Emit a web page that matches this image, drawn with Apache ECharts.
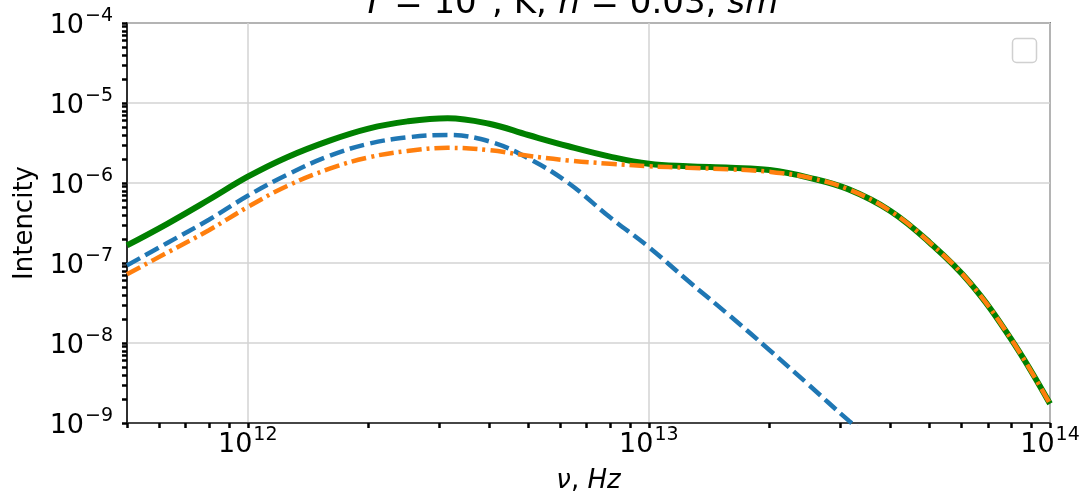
<!DOCTYPE html>
<html>
<head>
<meta charset="utf-8">
<style>
  html, body { margin: 0; padding: 0; background: #fff; }
  #chart { width: 1085px; height: 496px; }
</style>
<script src="https://cdn.jsdelivr.net/npm/echarts@6/dist/echarts.min.js"></script>
</head>
<body>
<div id="chart"></div>
<script>
// Frequency grid, Hz (roughly even steps in log space)
const nu = [5e11, 6.3e11, 8e11, 1e12, 1.25e12, 1.6e12, 2e12, 2.5e12, 3.15e12, 4e12, 5e12, 6.3e12, 8e12,
            1e13, 1.25e13, 1.6e13, 2e13, 2.5e13, 3.15e13, 4e13, 5e13, 6.3e13, 8e13, 1e14];

// Total intensity (solid green)
const total = [1.66e-7, 3.09e-7, 6.17e-7, 1.20e-6, 2.09e-6, 3.39e-6, 4.79e-6, 5.89e-6, 6.46e-6, 5.50e-6, 3.98e-6, 2.88e-6, 2.14e-6,
               1.74e-6, 1.62e-6, 1.55e-6, 1.45e-6, 1.17e-6, 8.32e-7, 4.47e-7, 1.82e-7, 5.75e-8, 1.12e-8, 1.74e-9];

// First component (blue dashed)
const partA = [9.33e-8, 1.78e-7, 3.47e-7, 6.92e-7, 1.26e-6, 2.19e-6, 3.09e-6, 3.72e-6, 3.98e-6, 3.31e-6, 2.04e-6, 1.0e-6, 3.72e-7,
               1.58e-7, 6.03e-8, 2.14e-8, 8.13e-9, 3.02e-9, 1.07e-9, 3.98e-10];

// Second component (orange dash-dot)
const partB = [7.24e-8, 1.35e-7, 2.57e-7, 5.01e-7, 9.12e-7, 1.51e-6, 2.09e-6, 2.51e-6, 2.75e-6, 2.57e-6, 2.19e-6, 1.91e-6, 1.74e-6,
               1.62e-6, 1.55e-6, 1.48e-6, 1.38e-6, 1.17e-6, 8.32e-7, 4.47e-7, 1.82e-7, 5.75e-8, 1.12e-8, 1.74e-9];

// Tick positions
const xMajor = [1e12, 1e13, 1e14];
const xMinor = [5e11, 6e11, 7e11, 8e11, 9e11,
                2e12, 3e12, 4e12, 5e12, 6e12, 7e12, 8e12, 9e12,
                2e13, 3e13, 4e13, 5e13, 6e13, 7e13, 8e13, 9e13];
const yMajor = [1e-9, 1e-8, 1e-7, 1e-6, 1e-5, 1e-4];
const yMinor = [];
[-9, -8, -7, -6, -5].forEach(function (p) {
  [2, 3, 4, 5, 6, 7, 8, 9].forEach(function (m) { yMinor.push(Number(m + 'e' + p)); });
});

const FONT = 'DejaVu Sans';
const pairs = (xs, ys) => ys.map((y, i) => [xs[i], y]);
const supLabel = function (v) {
  const e = Math.round(Math.log10(v));
  return '{b|10}{s|' + String(e).replace('-', '\u2212') + '}';
};
const richSup = {
  b: { fontFamily: FONT, fontSize: 27, color: '#000', lineHeight: 32, verticalAlign: 'bottom' },
  s: { fontFamily: FONT, fontSize: 19, color: '#000', lineHeight: 32, verticalAlign: 'top', padding: [0, 0, 0, 1] }
};
const tickStyle = { show: true, inside: false, length: 5, lineStyle: { color: '#000', width: 2.5 } };

const chart = echarts.init(document.getElementById('chart'), null, { renderer: 'canvas' });

chart.setOption({
  animation: false,
  backgroundColor: '#fff',
  grid: {
    left: 127, right: 35, top: 23, bottom: 73, containLabel: false, outerBoundsMode: 'none',
    show: true, borderColor: '#222', borderWidth: 1.5, backgroundColor: 'transparent'
  },
  xAxis: [
    {
      type: 'log', logBase: 10, min: 5e11, max: 1e14,
      axisLine: { show: true, onZero: false, lineStyle: { color: '#222', width: 1.5 } },
      axisTick: Object.assign({ customValues: xMajor }, tickStyle),
      axisLabel: { customValues: xMajor, formatter: supLabel, rich: richSup, margin: 3 },
      splitLine: { show: true, lineStyle: { color: '#d3d3d3', width: 1.5 } },
      name: '{i|\u03bd}{r|, }{i|Hz}', nameLocation: 'middle', nameGap: 45,
      nameTextStyle: { rich: {
        i: { fontFamily: FONT, fontStyle: 'italic', fontSize: 26, color: '#000' },
        r: { fontFamily: FONT, fontSize: 26, color: '#000' }
      } }
    },
    {
      type: 'log', logBase: 10, min: 5e11, max: 1e14, position: 'bottom',
      axisLine: { show: false, onZero: false },
      axisTick: Object.assign({ customValues: xMinor }, tickStyle),
      axisLabel: { show: false },
      splitLine: { show: false }
    }
  ],
  yAxis: [
    {
      type: 'log', logBase: 10, min: 1e-9, max: 1e-4,
      axisLine: { show: true, onZero: false, lineStyle: { color: '#222', width: 1.5 } },
      axisTick: Object.assign({ customValues: yMajor }, tickStyle),
      axisLabel: { customValues: yMajor, formatter: supLabel, rich: richSup, margin: 14 },
      splitLine: { show: true, lineStyle: { color: '#d3d3d3', width: 1.5 } },
      name: 'Intencity', nameLocation: 'middle', nameGap: 88, nameRotate: 90,
      nameTextStyle: { fontFamily: FONT, fontSize: 26, color: '#000' }
    },
    {
      type: 'log', logBase: 10, min: 1e-9, max: 1e-4, position: 'left',
      axisLine: { show: false, onZero: false },
      axisTick: Object.assign({ customValues: yMinor }, tickStyle),
      axisLabel: { show: false },
      splitLine: { show: false }
    }
  ],
  series: [
    {
      type: 'line', data: pairs(nu, total), smooth: 0.4, symbol: 'none',
      lineStyle: { color: '#008000', width: 6 }, z: 2
    },
    {
      type: 'line', data: pairs(nu, partA), smooth: 0.4, symbol: 'none',
      lineStyle: { color: '#1f77b4', width: 4.5, type: [15, 6] }, z: 3
    },
    {
      type: 'line', data: pairs(nu, partB), smooth: 0.4, symbol: 'none',
      lineStyle: { color: '#ff7f0e', width: 4.5, type: [15, 5, 3, 5] }, z: 4
    }
  ],
  graphic: [
    {
      type: 'text', x: 588, y: 21,
      style: {
        text: '{i|T}{r| = 10}{s|3}{r|, K; }{i|n}{r| = 0.03, }{i|sm}{s|\u22123}',
        align: 'center', verticalAlign: 'bottom',
        rich: {
          i: { fontFamily: FONT, fontStyle: 'italic', fontSize: 34, color: '#000', lineHeight: 40, verticalAlign: 'bottom' },
          r: { fontFamily: FONT, fontSize: 34, color: '#000', lineHeight: 40, verticalAlign: 'bottom' },
          s: { fontFamily: FONT, fontSize: 24, color: '#000', lineHeight: 40, verticalAlign: 'top' }
        }
      }
    },
    {
      type: 'rect', shape: { x: 1012.5, y: 38.5, width: 24, height: 24, r: 4 },
      style: { fill: '#fff', stroke: '#d0d0d0', lineWidth: 1.5 }, z: 10
    }
  ]
});
</script>
</body>
</html>
